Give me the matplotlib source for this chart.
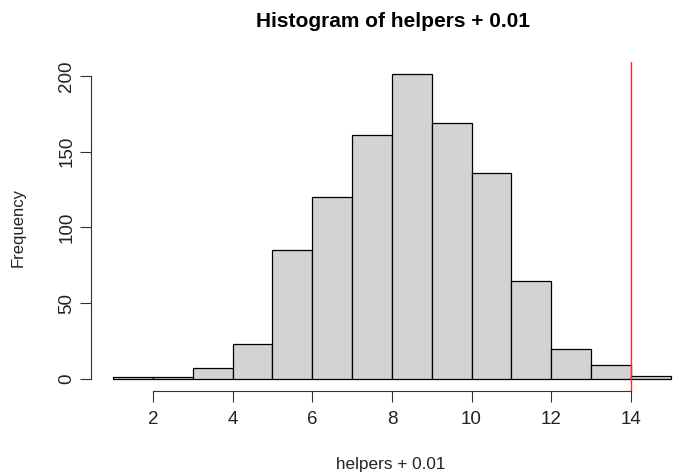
import matplotlib
matplotlib.use("Agg")
import matplotlib.pyplot as plt
import numpy as np

# bin edges and counts
edges = np.arange(1, 16)
counts = [1, 1, 7, 23, 85, 120, 161, 201, 169, 136, 65, 20, 9, 2]
x_ticks = [2, 4, 6, 8, 10, 12, 14]
y_ticks = [0, 50, 100, 150, 200]
cutoff = 14

plt.rcParams['font.family'] = ['Liberation Sans', 'DejaVu Sans']

fig = plt.figure(figsize=(6.73, 4.73), dpi=100)
ax = fig.add_axes([0.1348, 0.173, 0.895, 0.6953])

ax.hist(edges[:-1], bins=edges, weights=counts, color='#d3d3d3',
        edgecolor='black', linewidth=0.9)
ax.axvline(cutoff, color='#ff2a2a', linewidth=1.0)

ax.set_xlim(0.44, 15.56)
ax.set_ylim(-8.04, 209.04)

for s in ['top', 'right']:
    ax.spines[s].set_visible(False)
ax.spines['left'].set_bounds(0, 200)
ax.spines['bottom'].set_bounds(2, 14)
for s in ['left', 'bottom']:
    ax.spines[s].set_linewidth(0.8)
    ax.spines[s].set_color('#333333')

ax.set_xticks(x_ticks)
ax.set_yticks(y_ticks)
ax.set_yticklabels([str(v) for v in y_ticks], rotation=90, va='center')
ax.tick_params(length=8, width=0.8, labelsize=13.5, color='#333333',
               labelcolor='#222222')
ax.tick_params(axis='x', pad=6)
ax.tick_params(axis='y', pad=3)

fig.text(0.584, 0.955, 'Histogram of helpers + 0.01', ha='center', va='center',
         fontsize=15, fontweight='bold')
fig.text(0.58, 0.017, 'helpers + 0.01', ha='center', va='center', fontsize=12.3,
         color='#222222')
fig.text(0.027, 0.52, 'Frequency', ha='center', va='center', rotation=90,
         fontsize=12, color='#222222')

fig.savefig('out.png', dpi=100)
